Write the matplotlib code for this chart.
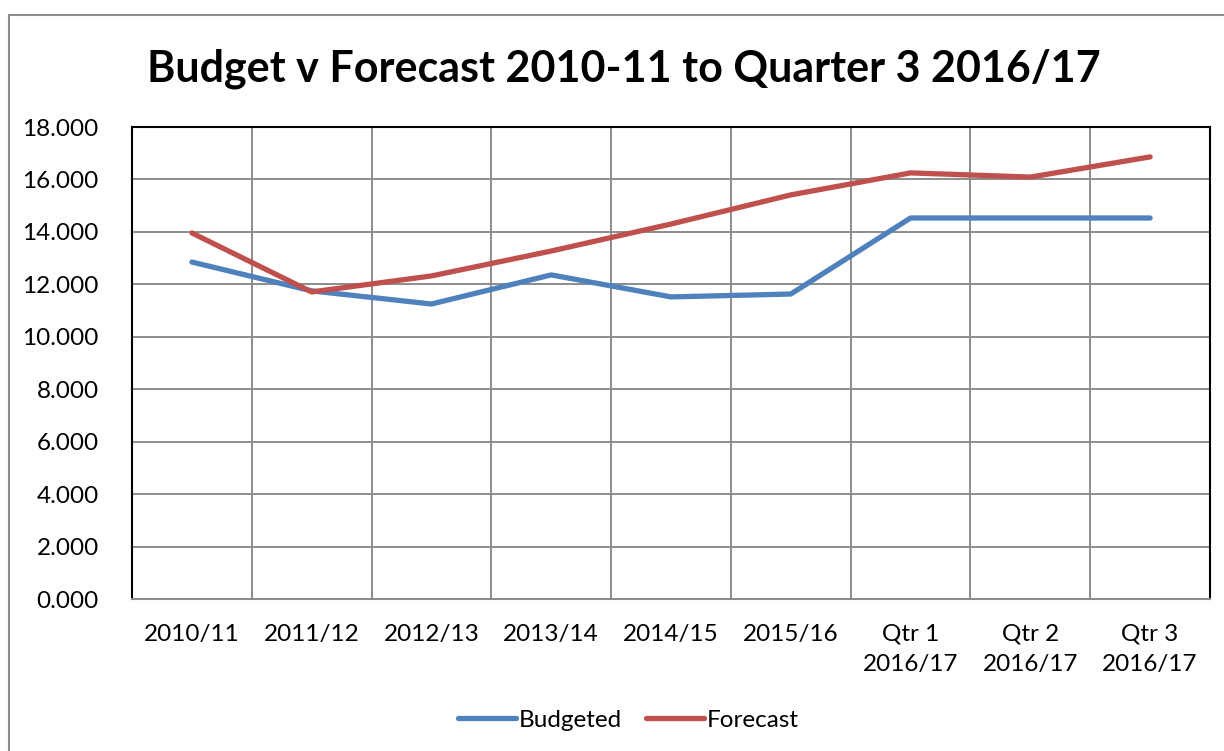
import numpy as np
import matplotlib.pyplot as plt
from matplotlib.lines import Line2D
from matplotlib.ticker import FixedLocator, FormatStrFormatter

# data
categories = ["2010/11", "2011/12", "2012/13", "2013/14", "2014/15", "2015/16",
              "Qtr 1\n2016/17", "Qtr 2\n2016/17", "Qtr 3\n2016/17"]
budgeted = [12.85, 11.75, 11.25, 12.36, 11.52, 11.63, 14.53, 14.53, 14.53]
forecast = [13.96, 11.71, 12.32, 13.27, 14.30, 15.41, 16.25, 16.09, 16.86]
y_ticks = [0, 2, 4, 6, 8, 10, 12, 14, 16, 18]

plt.rcParams['font.family'] = ['Lato', 'DejaVu Sans']

fig = plt.figure(figsize=(12.24, 7.51), dpi=100)
ax = fig.add_axes([132 / 1224, 1 - 599 / 751, (1210 - 132) / 1224, (599 - 127) / 751])

x = np.arange(len(categories))
ax.plot(x, budgeted, color='#4F81BD', lw=3.8, solid_capstyle='round', solid_joinstyle='round', label='Budgeted')
ax.plot(x, forecast, color='#C0504D', lw=3.8, solid_capstyle='round', solid_joinstyle='round', label='Forecast')

ax.set_xlim(-0.5, len(categories) - 0.5)
ax.set_ylim(0, 18)
ax.set_yticks(y_ticks)
ax.yaxis.set_major_formatter(FormatStrFormatter('%.3f'))
ax.set_xticks(x)
ax.set_xticklabels(categories)
ax.xaxis.set_minor_locator(FixedLocator(np.arange(0.5, len(categories) - 0.5, 1)))

ax.grid(True, axis='y', which='major', color='#8c8c8c', lw=1.4)
ax.grid(True, axis='x', which='minor', color='#8c8c8c', lw=1.4)
ax.set_axisbelow(True)
ax.tick_params(axis='both', which='both', length=0, labelsize=17.5)
ax.tick_params(axis='x', pad=18)
ax.tick_params(axis='y', pad=24)
for lbl in ax.get_xticklabels():
    lbl.set_linespacing(1.5)

for side in ['left', 'top', 'right']:
    ax.spines[side].set_color('black')
    ax.spines[side].set_linewidth(1.5)
ax.spines['bottom'].set_color('#8c8c8c')
ax.spines['bottom'].set_linewidth(1.5)

fig.text(624 / 1224, 1 - 69 / 751, "Budget v Forecast 2010-11 to Quarter 3 2016/17",
         ha='center', va='center', fontsize=31, fontweight='bold')

fig.legend(loc='center', bbox_to_anchor=(628 / 1224, 1 - 720 / 751), ncol=2, frameon=False,
           fontsize=17.5, handlelength=2.4, handletextpad=0.1, columnspacing=1.0)

# outer chart frame (cut off at right and bottom in the original)
fig.add_artist(Line2D([9 / 1224, 9 / 1224], [0, 1 - 15 / 751], color='#8c8c8c', lw=1.5, transform=fig.transFigure))
fig.add_artist(Line2D([9 / 1224, 1], [1 - 15 / 751, 1 - 15 / 751], color='#8c8c8c', lw=1.5, transform=fig.transFigure))

fig.savefig('out.png', dpi=100)
